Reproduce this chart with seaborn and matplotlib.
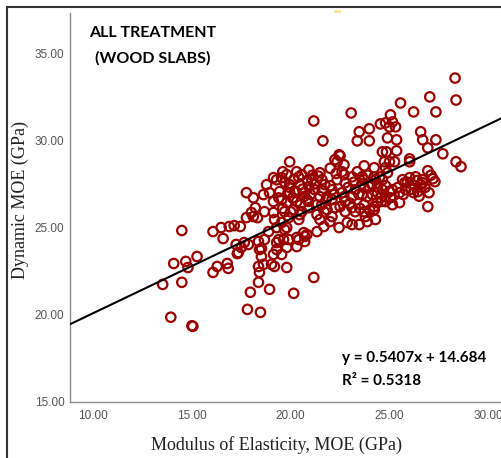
import matplotlib
matplotlib.use("Agg")
import matplotlib.pyplot as plt
import seaborn as sns
import numpy as np
from matplotlib.patches import Rectangle
from matplotlib import font_manager

# ---- data ----
moe = [13.52, 13.93, 15.05, 15.00, 14.49, 14.08, 14.69, 14.80, 15.26, 16.07,
       16.28, 16.79, 16.84, 17.30, 17.81, 17.96, 18.37, 18.37, 18.47, 14.49,
       16.07, 16.48, 16.89, 17.14, 17.45, 16.58, 17.76, 18.11, 18.21, 18.11,
       17.76, 18.32, 18.67, 19.13, 19.29, 19.54, 19.18, 19.54, 19.90, 20.41,
       20.56, 19.29, 19.69, 19.39, 19.90, 20.41, 20.71, 20.66, 18.37, 18.67,
       18.42, 18.52, 18.62, 18.42, 19.03, 19.18, 19.80, 18.93, 20.15, 21.17,
       17.50, 17.35, 17.86, 19.29, 19.54, 19.80, 20.31, 19.13, 19.95, 21.17,
       21.63, 23.06, 23.47, 23.98, 23.37, 23.98, 24.54, 22.45, 22.24, 24.64,
       25.05, 24.80, 25.15, 25.31, 25.00, 24.90, 25.36, 24.85, 25.36, 25.00,
       24.74, 25.26, 25.56, 27.04, 28.32, 28.37, 26.22, 27.35, 26.58, 26.68,
       26.94, 27.35, 27.70, 28.37, 28.62, 26.02, 22.50, 22.35, 22.60, 23.72,
       24.23, 22.70, 25.66, 26.02, 26.33, 26.68, 26.94, 27.30, 26.43, 25.82,
       25.51, 26.17, 26.58, 25.51, 26.94, 25.15, 24.80, 25.05, 24.80, 26.02,
       26.68, 25.77, 25.41, 26.22, 25.00, 24.80, 24.64, 24.90, 20.92, 21.48,
       21.58, 20.92, 21.22, 21.48, 20.66, 21.58, 20.92, 21.48, 22.09, 22.45,
       23.11, 23.78, 24.29, 22.76, 22.24, 23.27, 23.72, 20.71, 22.76, 23.11,
       23.37, 23.72, 23.98, 24.29, 24.64, 24.13, 23.62, 23.11, 22.76, 24.54,
       25.15, 24.23, 23.27, 19.13, 20.15, 20.46, 21.73, 18.93, 19.44, 19.95,
       20.71, 21.84, 19.80, 20.31, 19.13, 19.69, 20.15, 20.46, 21.99, 22.86,
       23.47, 23.88, 24.23, 22.70, 23.62, 24.23, 23.72, 24.39, 22.70, 23.88,
       22.50, 23.11, 23.72, 24.39, 18.88, 19.80, 19.64, 20.31, 20.82, 19.29,
       21.33, 21.68, 18.01, 17.24, 17.65, 18.52,
       19.95, 20.56, 21.07, 19.80, 22.09, 22.35, 21.84, 21.33, 22.09, 20.82,
       19.54, 18.78, 18.62,
       19.70, 19.95, 20.20, 20.40, 20.60, 20.85, 21.00, 21.20, 21.40, 21.60,
       21.80, 22.00, 22.20, 20.10, 20.50, 20.90, 21.30, 21.70, 19.60, 20.00,
       19.40, 19.85, 21.10, 20.30, 19.60, 22.30, 22.00,
       22.90, 23.20, 23.45, 23.60, 23.90, 24.10, 24.40, 24.60, 23.00, 23.50,
       24.00, 24.50, 22.60, 24.80,
       25.90, 26.10, 26.40, 26.80, 27.10, 27.20, 25.70, 26.50, 27.00]

dyn = [21.74, 19.86, 19.34, 19.37, 21.86, 22.94, 23.06, 22.71, 23.34, 22.43,
       22.77, 22.94, 22.66, 23.51, 20.31, 21.29, 21.86, 22.77, 20.14, 24.83,
       24.77, 25.00, 25.06, 25.11, 25.06, 24.37, 27.00, 26.71, 26.14, 25.63,
       25.57, 25.57, 25.91, 26.49, 27.74, 27.86, 25.46, 25.29, 25.57, 25.46,
       25.91, 25.00, 24.89, 24.31, 24.31, 24.31, 24.20, 24.71, 24.20, 24.31,
       23.74, 23.34, 22.89, 22.43, 22.89, 22.77, 22.71, 21.46, 21.23, 22.14,
       23.86, 23.57, 24.03, 23.74, 23.46, 23.86, 23.91, 23.46, 28.77, 31.11,
       29.97, 31.57, 30.49, 30.66, 29.97, 29.97, 30.94, 29.17, 28.89, 29.34,
       31.46, 31.00, 31.06, 30.77, 30.77, 30.14, 30.03, 29.34, 29.40, 28.77,
       28.77, 28.77, 32.14, 32.49, 33.57, 32.31, 31.63, 31.63, 30.49, 30.03,
       29.57, 30.03, 29.23, 28.77, 28.49, 28.94, 29.11, 28.77, 28.20, 28.54,
       28.43, 28.60, 27.74, 27.86, 27.91, 27.74, 28.26, 27.63, 27.06, 27.17,
       27.00, 27.46, 27.46, 26.43, 26.20, 27.17, 26.77, 26.71, 28.43, 28.77,
       27.57, 27.57, 27.29, 27.00, 27.06, 26.49, 27.74, 28.14, 28.31, 28.14,
       27.74, 27.34, 27.17, 26.77, 26.77, 26.31, 26.14, 25.46, 25.63, 25.00,
       25.17, 25.63, 25.46, 25.91, 26.14, 25.91, 25.91, 24.49, 27.57, 27.91,
       28.20, 27.74, 27.34, 27.74, 27.17, 26.89, 26.89, 26.77, 26.49, 26.71,
       26.31, 26.20, 27.17, 27.86, 27.74, 27.46, 27.46, 27.00, 27.06, 27.00,
       27.00, 26.77, 26.43, 26.49, 25.86, 25.91, 26.03, 25.74, 25.34, 25.29,
       25.17, 25.34, 26.03, 28.03, 27.91, 27.91, 27.29, 27.34, 26.77, 26.77,
       26.20, 26.14, 26.31, 26.43, 24.77, 25.00, 24.31, 24.43, 24.60, 24.14,
       24.77, 25.06, 25.86, 24.03, 24.14, 23.80,
       27.46, 28.03, 27.74, 28.03, 27.17, 27.74, 26.03, 25.74, 26.60, 26.60,
       26.60, 27.46, 26.89,
       27.60, 27.30, 27.10, 27.90, 27.20, 27.70, 26.90, 27.50, 27.95, 27.10,
       26.60, 27.40, 26.90, 26.70, 26.30, 26.50, 26.30, 25.90, 26.10, 25.90,
       26.70, 26.95, 28.00, 28.20, 28.20, 28.10, 28.40,
       27.30, 27.60, 26.90, 27.50, 28.00, 27.50, 27.00, 26.50, 26.40, 26.10,
       26.00, 27.90, 27.00, 27.40,
       27.60, 27.20, 27.70, 27.30, 28.00, 27.80, 26.90, 26.80, 27.00]

slope = 0.5407
intercept = 14.684
x_ticks = [10, 15, 20, 25, 30]
y_ticks = [15, 20, 25, 30, 35]

RED = "#990000"

sns.set_theme(style="white")

installed = {f.name for f in font_manager.fontManager.ttflist}
if "Liberation Sans Narrow" in installed:
    tick_font, tick_size = "Liberation Sans Narrow", 10
else:
    tick_font, tick_size = "Liberation Sans", 8.5

fig = plt.figure(figsize=(5.02, 4.58), dpi=100)
W, H = 502, 458
ax = fig.add_axes([70 / W, (H - 402) / H, (W - 70) / W + 0.01, (402 - 13) / H])

sns.scatterplot(x=moe, y=dyn, ax=ax, s=46, facecolors="none",
                edgecolor=RED, linewidth=1.6, zorder=3)
ax.axline((0, intercept), slope=slope, color="black", lw=1.5, zorder=4)

ax.set_xlim(8.83, 30.95)
ax.set_ylim(15, 37.3)
ax.set_xticks(x_ticks)
ax.set_yticks(y_ticks)
ax.set_xticklabels([f"{v:.2f}" for v in x_ticks])
ax.set_yticklabels([f"{v:.2f}" for v in y_ticks])
for lab in ax.get_xticklabels() + ax.get_yticklabels():
    lab.set_family([tick_font, "DejaVu Sans"])
    lab.set_fontsize(tick_size)
    lab.set_color("#555555")
ax.tick_params(axis="x", length=0, pad=6)
ax.tick_params(axis="y", length=0, pad=4)

for side in ["top", "right"]:
    ax.spines[side].set_visible(False)
for side in ["left", "bottom"]:
    ax.spines[side].set_color("#8c8c8c")
    ax.spines[side].set_linewidth(1.0)
ax.set_xlabel("")
ax.set_ylabel("")

serif = ["Liberation Serif", "DejaVu Serif"]
fig.text(277 / W, 1 - 445 / H, "Modulus of Elasticity, MOE (GPa)", family=serif,
         fontsize=13, ha="center", va="center", color="#222222")
fig.text(20 / W, 1 - 200 / H, "Dynamic MOE (GPa)", family=serif, fontsize=13,
         rotation=90, ha="center", va="center", color="#222222")

bold = ["Lato", "DejaVu Sans"]
fig.text(153 / W, 1 - 33 / H, "ALL TREATMENT", family=bold, weight="bold",
         fontsize=11.5, ha="center", va="center", color="black")
fig.text(153 / W, 1 - 58 / H, "(WOOD SLABS)", family=bold, weight="bold",
         fontsize=11.5, ha="center", va="center", color="black")
fig.text(342 / W, 1 - 358 / H, "y = 0.5407x + 14.684", family=bold, weight="bold",
         fontsize=11, ha="left", va="center", color="black")
fig.text(342 / W, 1 - 381 / H, "R² = 0.5318", family=bold, weight="bold",
         fontsize=11, ha="left", va="center", color="black")

# outer frame and small marker of the source image
fig.patches.append(Rectangle((7 / W, -0.05), 1.1, (H - 7) / H + 0.05,
                             transform=fig.transFigure, fill=False,
                             edgecolor="#333333", lw=1.5))
fig.patches.append(Rectangle((334 / W, 1 - 13 / H), 7 / W, 3 / H,
                             transform=fig.transFigure, facecolor="#ffe699",
                             edgecolor="none"))

fig.savefig("out.png", dpi=100)
